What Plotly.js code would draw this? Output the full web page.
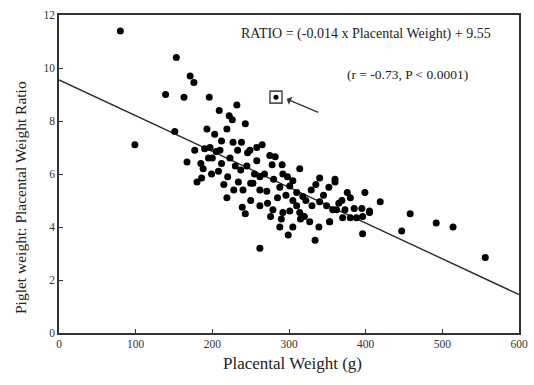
<!DOCTYPE html>
<html><head><meta charset="utf-8">
<script src="https://cdn.plot.ly/plotly-3.0.1.min.js"></script>
<style>html,body{margin:0;padding:0;background:#fff;}#chart{width:534px;height:385px;}</style>
</head><body><div id="chart"></div>
<script>
// Placental weight (g)
const placentalWeight = [80,153,99,139,151,171,176,163,196,232,209,222,226,243,193,219,203,212,227,238,
177,190,197,205,249,258,167,188,199,180,186,212,223,233,246,220,234,250,237,219,
239,243,262,265,275,282,258,291,278,314,253,262,271,301,305,340,360,310,318,329,
340,349,362,262,279,292,301,314,288,305,299,327,339,353,334,360,376,369,399,419,
380,357,373,370,380,388,396,405,458,447,396,353,492,514,556,405,200,208,215,228,
245,255,268,280,288,296,305,322,330,285,272,262,292,298,310,320,345,352,335,230,
240,185,195,210,250,276,290,315,365,385,395];
// Piglet weight : placental weight ratio
const ratio = [11.4,10.4,7.1,9.0,7.6,9.7,9.45,8.9,8.9,8.6,8.4,8.2,8.05,7.9,7.7,7.7,7.5,7.25,7.2,7.2,
6.9,6.95,7.0,6.85,6.9,7.0,6.45,6.2,6.0,5.7,5.85,6.4,6.6,6.9,6.8,5.9,5.7,5.65,6.15,5.1,
4.75,4.5,3.2,7.1,6.7,6.65,6.5,6.35,6.35,6.2,5.65,5.4,5.35,5.55,5.75,5.85,5.8,5.3,5.15,5.4,
4.95,4.8,4.65,4.8,4.65,4.55,4.6,4.55,4.0,4.0,3.7,4.2,4.0,4.2,3.5,5.7,5.3,5.0,5.3,4.95,
5.1,4.65,4.65,4.35,4.35,4.35,4.4,4.55,4.5,3.85,3.75,4.2,4.15,4.0,2.85,4.6,6.6,6.1,5.6,5.4,
6.3,6.0,6.0,5.8,5.5,5.2,5.0,5.0,4.8,5.1,4.9,5.9,6.0,5.9,4.8,4.4,5.2,5.5,5.6,6.3,
5.4,6.4,6.6,6.9,5.0,4.4,4.3,4.3,4.9,4.7,4.7];
// Highlighted (boxed) animal
const highlightX = [283];
const highlightY = [8.9];
// Regression line endpoints: RATIO = (-0.014 x Placental Weight) + 9.55
const fitX = [0, 600];
const fitY = [9.55, 1.45];
const xTicks = [0,100,200,300,400,500,600];
const yTicks = [0,2,4,6,8,10,12];

const serif = 'Liberation Serif, Times New Roman, serif';
const traces = [
  {x: fitX, y: fitY, mode: 'lines', line: {color: '#2a2a2a', width: 1.4}, hoverinfo: 'skip'},
  {x: placentalWeight, y: ratio, mode: 'markers', marker: {color: '#000', size: 7}},
  {x: highlightX, y: highlightY, mode: 'markers', marker: {color: '#000', size: 5}},
  {x: highlightX, y: highlightY, mode: 'markers', marker: {symbol: 'square-open', color: '#555', size: 12, line: {width: 1.6}}}
];
const layout = {
  width: 534, height: 385,
  margin: {l: 59, r: 15, t: 15, b: 52},
  showlegend: false,
  paper_bgcolor: '#fff', plot_bgcolor: '#fff',
  font: {family: serif, color: '#222', size: 11},
  xaxis: {range: [0, 600], tickvals: xTicks, ticktext: xTicks.map(String), showgrid: false, zeroline: false,
    showline: true, mirror: true, linecolor: '#333', linewidth: 1.6, ticks: 'inside', ticklen: 4, tickcolor: '#333',
    tickfont: {family: serif, size: 11.5, color: '#333'}},
  yaxis: {range: [0, 12], tickvals: yTicks, ticktext: yTicks.map(String), showgrid: false, zeroline: false,
    showline: true, mirror: true, linecolor: '#333', linewidth: 1.6, ticks: 'inside', ticklen: 4, tickcolor: '#333',
    tickfont: {family: serif, size: 11.5, color: '#333'}},
  annotations: [
    {x: (292 - 59) / 460, y: (333 - 363) / 318, xref: 'paper', yref: 'paper', text: 'Placental Weight (g)', showarrow: false,
     xanchor: 'center', yanchor: 'middle', font: {family: serif, size: 17, color: '#222'}},
    {x: (20 - 59) / 460, y: (333 - 198) / 318, xref: 'paper', yref: 'paper', text: 'Piglet weight: Placental Weight Ratio', showarrow: false,
     textangle: -90, xanchor: 'center', yanchor: 'middle', font: {family: serif, size: 15.5, color: '#222'}},
    {x: 400, y: 11.3, xref: 'x', yref: 'y', text: 'RATIO = (-0.014 x Placental Weight) + 9.55', showarrow: false,
     font: {family: serif, size: 14, color: '#222'}},
    {x: 454, y: 9.74, xref: 'x', yref: 'y', text: '(r = -0.73, P < 0.0001)', showarrow: false,
     font: {family: serif, size: 13.5, color: '#222'}},
    {x: 297, y: 8.83, xref: 'x', yref: 'y', text: '', showarrow: true, ax: 33, ay: 14,
     arrowhead: 1, arrowsize: 1.2, arrowwidth: 1.2, arrowcolor: '#333'}
  ]
};
Plotly.newPlot('chart', traces, layout, {staticPlot: true});
</script></body></html>
